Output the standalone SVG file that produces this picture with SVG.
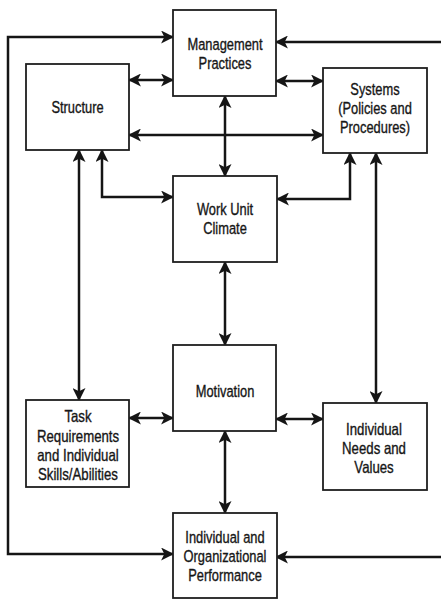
<svg xmlns="http://www.w3.org/2000/svg" width="441" height="599" viewBox="0 0 441 599">
<defs>
<marker id="ah" markerUnits="userSpaceOnUse" viewBox="0 0 12 12" markerWidth="13" markerHeight="13" refX="11" refY="6" orient="auto-start-reverse">
<path d="M0,0 L12,6 L0,12 L3,6 z" fill="#151515"/>
</marker>
<style>
.box{fill:#fff;stroke:#1e1e1e;stroke-width:1.8}
.lbl{font-family:"Liberation Sans",Arial,sans-serif;font-size:16.5px;fill:#161616;stroke:#161616;stroke-width:0.35;text-anchor:middle}
.c{fill:none;stroke:#151515;stroke-width:2.5;marker-end:url(#ah)}
.d{marker-start:url(#ah)}
</style>
</defs>
<rect width="441" height="599" fill="#fff"/>
<g id="connectors">
<path class="c d" d="M173,37 L8,37 L8,554 L173,554"/>
<path class="c" d="M441,42 L276,42"/>
<path class="c" d="M441,557 L276,557"/>
<path class="c d" d="M129,80 L173,80"/>
<path class="c d" d="M276,81 L323,81"/>
<path class="c d" d="M129,135 L323,135"/>
<path class="c d" d="M225,96 L225,176"/>
<path class="c d" d="M102,150 L102,197 L173,197"/>
<path class="c d" d="M350,153 L350,199 L277,199"/>
<path class="c d" d="M79,150 L79,400"/>
<path class="c d" d="M376,153 L376,403"/>
<path class="c d" d="M225,262 L225,345"/>
<path class="c d" d="M129,418 L173,418"/>
<path class="c d" d="M276,419 L323,419"/>
<path class="c d" d="M225,431 L225,513"/>
</g>
<g id="management">
<rect class="box" x="173" y="10" width="103" height="86"/>
<text class="lbl" transform="translate(225,0) scale(0.78,1)"><tspan x="0" y="50">Management</tspan><tspan x="0" y="69">Practices</tspan></text>
</g>
<g id="structure">
<rect class="box" x="26" y="64" width="103" height="86"/>
<text class="lbl" transform="translate(77.5,0) scale(0.78,1)"><tspan x="0" y="113">Structure</tspan></text>
</g>
<g id="systems">
<rect class="box" x="323" y="68" width="104" height="85"/>
<text class="lbl" transform="translate(375,0) scale(0.78,1)"><tspan x="0" y="95">Systems</tspan><tspan x="0" y="114">(Policies and</tspan><tspan x="0" y="133">Procedures)</tspan></text>
</g>
<g id="workunit">
<rect class="box" x="173" y="176" width="104" height="86"/>
<text class="lbl" transform="translate(225,0) scale(0.78,1)"><tspan x="0" y="215">Work Unit</tspan><tspan x="0" y="234">Climate</tspan></text>
</g>
<g id="motivation">
<rect class="box" x="173" y="345" width="103" height="86"/>
<text class="lbl" transform="translate(225,0) scale(0.78,1)"><tspan x="0" y="397">Motivation</tspan></text>
</g>
<g id="task">
<rect class="box" x="26" y="400" width="103" height="87"/>
<text class="lbl" transform="translate(78,0) scale(0.8,1)"><tspan x="0" y="422">Task</tspan><tspan x="0" y="442">Requirements</tspan><tspan x="0" y="461">and Individual</tspan><tspan x="0" y="480">Skills/Abilities</tspan></text>
</g>
<g id="needs">
<rect class="box" x="323" y="403" width="104" height="87"/>
<text class="lbl" transform="translate(374,0) scale(0.8,1)"><tspan x="0" y="435">Individual</tspan><tspan x="0" y="454">Needs and</tspan><tspan x="0" y="473">Values</tspan></text>
</g>
<g id="performance">
<rect class="box" x="173" y="513" width="104" height="85"/>
<text class="lbl" transform="translate(225,0) scale(0.78,1)"><tspan x="0" y="543">Individual and</tspan><tspan x="0" y="562">Organizational</tspan><tspan x="0" y="581">Performance</tspan></text>
</g>
</svg>
